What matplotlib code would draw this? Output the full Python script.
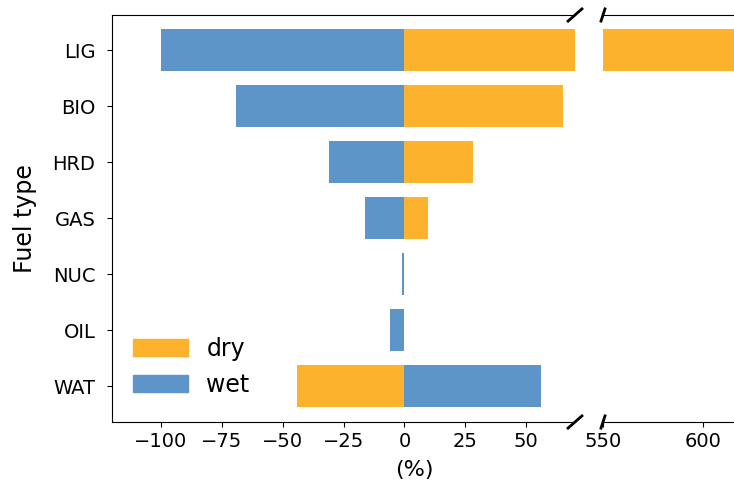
import numpy as np
import matplotlib
matplotlib.use('Agg')
import matplotlib.pyplot as plt
from matplotlib.patches import Patch

# --- Data ---
fuels = ['LIG', 'BIO', 'HRD', 'GAS', 'NUC', 'OIL', 'WAT']
dry = [640, 65, 28, 9.5, 0, 0, -44]
wet = [-100, -69, -31, -16, -0.9, -6, 56]

DRY_COLOR = '#FDB22E'
WET_COLOR = '#5E95C8'

fig = plt.figure(figsize=(7.34, 4.88), dpi=100)
bottom, height = 1 - 422 / 488, (422 - 15) / 488
ax_l = fig.add_axes([112 / 734, bottom, (575 - 112) / 734, height])
ax_r = fig.add_axes([603 / 734, bottom, 133 / 734, height])

y = np.arange(len(fuels))
for ax in (ax_l, ax_r):
    ax.barh(y, dry, height=0.75, color=DRY_COLOR)
    ax.barh(y, wet, height=0.75, color=WET_COLOR)
    ax.set_ylim(len(fuels) - 1 + 0.64, -0.63)

ax_l.set_xlim(-120, 70)
ax_r.set_xlim(550, 616.5)

ax_l.set_xticks([-100, -75, -50, -25, 0, 25, 50])
ax_r.set_xticks([550, 600])
ax_l.set_yticks(y)
ax_l.set_yticklabels(fuels)
ax_r.set_yticks([])

ax_l.spines['right'].set_visible(False)
ax_r.spines['left'].set_visible(False)
ax_r.spines['right'].set_visible(False)

ax_l.tick_params(axis='x', labelsize=14)
ax_l.tick_params(axis='y', labelsize=14, pad=8.5)
ax_r.tick_params(labelsize=14)
ax_l.set_ylabel('Fuel type', fontsize=17, labelpad=11)
fig.text(414 / 734, 1 - 470 / 488, '(%)', fontsize=16, ha='center', va='center')

# break marks
d = 0.015
kw = dict(transform=ax_l.transAxes, color='k', clip_on=False, lw=2)
ax_l.plot((1 - d, 1 + d), (-d, +d), **kw)
ax_l.plot((1 - d, 1 + d), (1 - d, 1 + d), **kw)
kw.update(transform=ax_r.transAxes)
ax_r.plot((-d, +d), (-d, +d), **kw)
ax_r.plot((-d, +d), (1 - d, 1 + d), **kw)

handles = [Patch(color=DRY_COLOR, label='dry'), Patch(color=WET_COLOR, label='wet')]
ax_l.legend(handles=handles, loc='lower left', frameon=False, fontsize=17,
            handlelength=2.3, bbox_to_anchor=(0.0, 0.01))

fig.savefig('out.png', dpi=100)
